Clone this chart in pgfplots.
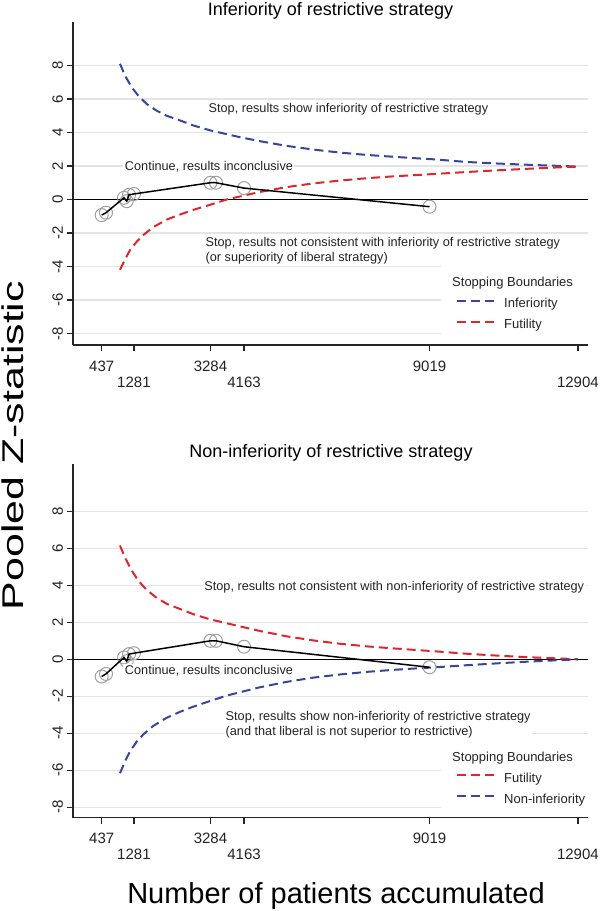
\documentclass[border=0pt]{standalone}
\usepackage{pgfplots}
\pgfplotsset{compat=1.18}
\usepackage{fontspec}
\setmainfont{Liberation Sans}
\usepackage{graphicx}
\definecolor{bblue}{RGB}{55,70,155}
\definecolor{rred}{RGB}{222,38,45}
\definecolor{gridgray}{RGB}{228,228,228}
\definecolor{txt}{RGB}{35,35,35}

\pgfplotstableread{
x z
437 -0.93
550 -0.79
1021 0.10
1091 -0.10
1152 0.28
1281 0.33
3284 1.00
3429 1.00
4163 0.68
9019 -0.43
}\trials

\pgfplotstableread{
x z
916 8.10
1047 7.40
1222 6.70
1395 6.20
1615 5.70
1877 5.30
2139 5.00
2487 4.72
2835 4.42
3272 4.13
3709 3.90
4057 3.72
4581 3.48
5280 3.20
5976 2.98
6675 2.80
7374 2.66
8070 2.55
8683 2.46
9117 2.40
9992 2.24
10864 2.14
11735 2.06
12610 1.99
12904 1.96
}\topinf

\pgfplotstableread{
x z
916 -4.20
1047 -3.58
1179 -3.02
1353 -2.52
1527 -2.12
1788 -1.65
2139 -1.20
2487 -0.90
2835 -0.62
3272 -0.32
3709 0.00
4057 0.18
4581 0.45
5280 0.74
5976 0.96
6675 1.13
7374 1.27
8070 1.38
8683 1.46
9117 1.52
9992 1.64
10864 1.75
11735 1.85
12610 1.94
12904 1.96
}\topfut

\pgfplotstableread{
x z
916 6.15
1047 5.50
1222 4.80
1395 4.25
1615 3.75
1877 3.32
2139 3.00
2487 2.72
2835 2.44
3272 2.16
3709 1.95
4057 1.78
4581 1.53
5280 1.24
5976 1.02
6675 0.84
7374 0.70
8070 0.59
8683 0.50
9117 0.44
9992 0.30
10864 0.19
11735 0.10
12610 0.03
12904 0.00
}\botfut

\pgfplotstableread{
x z
916 -6.16
1047 -5.52
1179 -4.98
1353 -4.45
1527 -4.06
1788 -3.60
2139 -3.16
2487 -2.84
2835 -2.56
3272 -2.26
3709 -1.96
4057 -1.78
4581 -1.51
5280 -1.22
5976 -0.99
6675 -0.82
7374 -0.68
8070 -0.57
8683 -0.49
9117 -0.44
9992 -0.32
10864 -0.21
11735 -0.11
12610 -0.03
12904 0.00
}\botnon

\tikzset{
  bdry/.style={line width=2pt, dash pattern=on 9pt off 5pt},
  ann/.style={anchor=west, fill=white, inner sep=1.5pt,
    font=\fontsize{12.7}{15}\selectfont, text=txt, align=left},
}

\pgfplotsset{
  panel/.style={
    scale only axis, width=515pt,
    xmin=-314, xmax=13168,
    scaled x ticks=false, scaled y ticks=false,
    clip mode=individual,
    axis lines*=left,
    axis line style={line width=1.4pt, black!85},
    tick align=outside, major tick length=6.5pt,
    tick style={line width=1.2pt, black!85},
    xtick={437,3284,9019}, xticklabels={437,3284,9019},
    extra x ticks={1281,4163,12904}, extra x tick labels={1281,4163,12904},
    extra x tick style={xmajorgrids=false, xticklabel style={yshift=-16pt}},
    ytick={-8,-6,-4,-2,0,2,4,6,8},
    yticklabels={-8,-6,-4,-2,0,2,4,6,8},
    ymajorgrids, major grid style={line width=1.5pt, gridgray},
    tick label style={font=\fontsize{15}{18}\selectfont, text=txt},
    xticklabel style={yshift=-5.5pt},
    yticklabel style={rotate=90, anchor=south},
    legend cell align=left,
    legend style={draw=none, fill=white, inner xsep=15pt, inner ysep=6pt,
      column sep=9pt, row sep=9pt,
      nodes={inner sep=0pt, text height=9pt, text depth=3pt,
        font=\fontsize{13}{15}\selectfont, text=txt}},
    legend image code/.code={\draw[##1] (0pt,4.3pt) -- (37pt,4.3pt);},
  },
}

\begin{document}
\begin{tikzpicture}
\path[use as bounding box] (0,0) rectangle (600pt,911pt);

% ---------- top panel ----------
\begin{axis}[panel, at={(73pt,566pt)}, anchor=south west, height=323pt,
  ymin=-8.687, ymax=10.597,
  legend style={at={(axis description cs:0.7146,0.2488)}, anchor=north west}]
\addplot[black, line width=1.4pt, forget plot] coordinates {(-314,0) (13168,0)};
\addplot[bblue, bdry, forget plot] table[x=x,y=z] {\topinf};
\addplot[rred, bdry, forget plot] table[x=x,y=z] {\topfut};
\addplot[only marks, mark=o, mark size=6.5pt, mark options={draw=gray!75, line width=1pt}, forget plot] table[x=x,y=z] {\trials};
\addplot[black, line width=1.5pt, forget plot] table[x=x,y=z] {\trials};
\node[ann] at (axis cs:3193,5.4) {Stop, results show inferiority of restrictive strategy};
\node[ann] at (axis cs:1002,1.94) {Continue, results inconclusive};
\node[ann] at (axis cs:3115,-3.06) {Stop, results not consistent with inferiority of restrictive strategy\\(or superiority of liberal strategy)};
\addlegendimage{empty legend}\addlegendentry[text height=16pt]{\hspace{-52pt}Stopping Boundaries}
\addlegendimage{bblue, bdry}\addlegendentry{Inferiority}
\addlegendimage{rred, bdry}\addlegendentry{Futility}
\end{axis}

% ---------- bottom panel ----------
\begin{axis}[panel, at={(73pt,93.3pt)}, anchor=south west, height=353.7pt,
  ymin=-8.562, ymax=10.557,
  legend style={at={(axis description cs:0.7146,0.2215)}, anchor=north west}]
\addplot[black, line width=1.4pt, forget plot] coordinates {(-314,0) (13168,0)};
\addplot[rred, bdry, forget plot] table[x=x,y=z] {\botfut};
\addplot[bblue, bdry, forget plot] table[x=x,y=z] {\botnon};
\addplot[only marks, mark=o, mark size=6.5pt, mark options={draw=gray!75, line width=1pt}, forget plot] table[x=x,y=z] {\trials};
\addplot[black, line width=1.5pt, forget plot] table[x=x,y=z] {\trials};
\node[ann] at (axis cs:3081,3.92) {Stop, results not consistent with non-inferiority of restrictive strategy};
\node[ann] at (axis cs:1002,-0.62) {Continue, results inconclusive};
\node[ann] at (axis cs:3639,-3.535) {Stop, results show non-inferiority of restrictive strategy\\(and that liberal is not superior to restrictive)};
\addlegendimage{empty legend}\addlegendentry[text height=16pt]{\hspace{-52pt}Stopping Boundaries}
\addlegendimage{rred, bdry}\addlegendentry{Futility}
\addlegendimage{bblue, bdry}\addlegendentry{Non-inferiority}
\end{axis}

% ---------- titles and labels ----------
\node[anchor=base, font=\fontsize{18}{22}\selectfont] at (330.5pt,895pt) {Inferiority of restrictive strategy};
\node[anchor=base, font=\fontsize{18}{22}\selectfont] at (331pt,453.3pt) {Non-inferiority of restrictive strategy};
\node[rotate=90, anchor=base, inner sep=0pt] at (23.3pt,465.5pt) {\scalebox{1.43}[1]{\fontsize{30}{36}\selectfont Pooled Z-statistic}};
\node[anchor=base, inner sep=0pt, font=\fontsize{29}{34}\selectfont] at (336pt,7.7pt) {Number of patients accumulated};
\end{tikzpicture}
\end{document}
